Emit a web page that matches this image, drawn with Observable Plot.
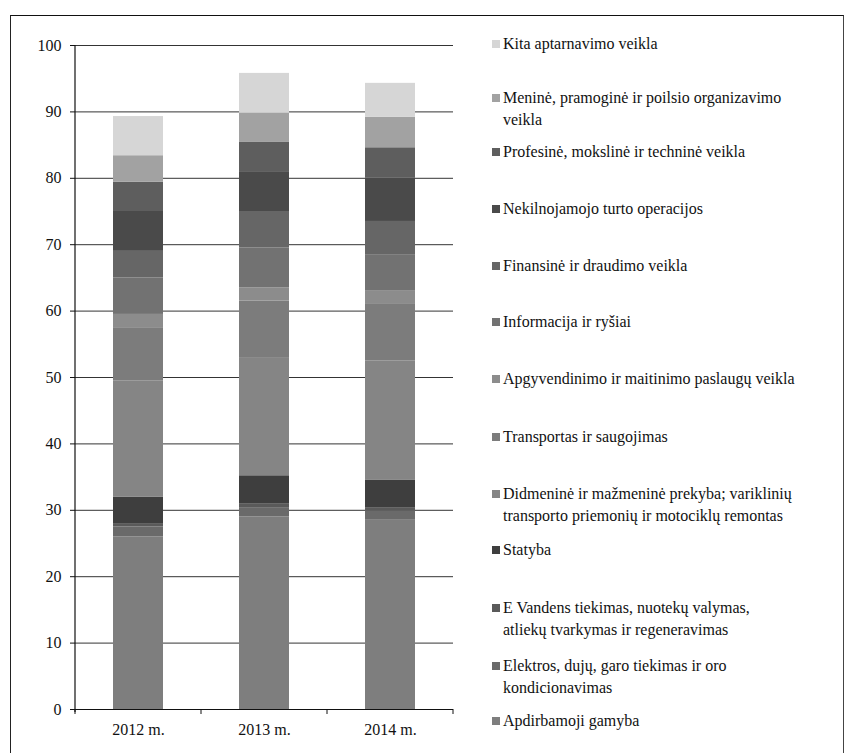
<!DOCTYPE html>
<html>
<head>
<meta charset="utf-8">
<script src="https://cdn.jsdelivr.net/npm/d3@7"></script>
<script src="https://cdn.jsdelivr.net/npm/@observablehq/plot@0.6"></script>
<style>
  body { margin: 0; background: #fff; font-family: "Liberation Serif", "Times New Roman", "DejaVu Serif", serif; }
  #wrap { position: relative; width: 845px; height: 753px; overflow: hidden; }
  #frame { position: absolute; left: 10px; top: 15px; width: 832px; height: 750px; border-top: 1.5px solid #111; border-left: 1.5px solid #222; border-right: 1px solid #444; }
  #chart { position: absolute; left: 0; top: 0; }
  #legend { position: absolute; left: 0; top: 0; width: 845px; height: 753px; pointer-events: none; }
  .li { position: absolute; left: 492px; font-size: 16px; line-height: 22px; color: #111; width: 350px; white-space: pre-line; }
  .sw { position: absolute; left: 0; top: 7px; width: 8px; height: 8px; }
  .tx { margin-left: 11px; display: block; }
</style>
</head>
<body>
<div id="wrap">
  <div id="frame"></div>
  <div id="chart"></div>
  <div id="legend"></div>
</div>
<script>
const years = ["2012 m.", "2013 m.", "2014 m."];
// stacking order: bottom to top
const sectors = [
  "Apdirbamoji gamyba",
  "Elektros, dujų, garo tiekimas ir oro\nkondicionavimas",
  "E Vandens tiekimas, nuotekų valymas,\natliekų tvarkymas ir regeneravimas",
  "Statyba",
  "Didmeninė ir mažmeninė prekyba; variklinių\ntransporto priemonių ir motociklų remontas",
  "Transportas ir saugojimas",
  "Apgyvendinimo ir maitinimo paslaugų veikla",
  "Informacija ir ryšiai",
  "Finansinė ir draudimo veikla",
  "Nekilnojamojo turto operacijos",
  "Profesinė, mokslinė ir techninė veikla",
  "Meninė, pramoginė ir poilsio organizavimo\nveikla",
  "Kita aptarnavimo veikla"
];
const values2012 = [26, 1.5, 0.5, 4, 17.5, 8, 2, 5.5, 4, 6, 4.4, 4, 5.9];
const values2013 = [29, 1.4, 0.6, 4.2, 17.8, 8.5, 2, 6, 5.5, 6, 4.4, 4.4, 6];
const values2014 = [28.5, 1.4, 0.5, 4.1, 18, 8.5, 2, 5.5, 5, 6.5, 4.6, 4.6, 5.1];
const yTicks = [0, 10, 20, 30, 40, 50, 60, 70, 80, 90, 100];

const grays = ["#7e7e7e", "#6a6a6a", "#5a5a5a", "#3e3e3e", "#858585", "#7c7c7c", "#8c8c8c",
               "#727272", "#666666", "#4a4a4a", "#5e5e5e", "#a2a2a2", "#d6d6d6"];

const series = [values2012, values2013, values2014];
const data = [];
years.forEach((y, i) => sectors.forEach((s, j) => data.push({year: y, sector: s, value: series[i][j]})));

const FONT = "'Liberation Serif', 'Times New Roman', 'DejaVu Serif', serif";
const plot = Plot.plot({
  width: 845,
  height: 753,
  marginLeft: 75,
  marginRight: 392,
  marginTop: 45,
  marginBottom: 44,
  style: {fontFamily: FONT, fontSize: "16px", color: "#111", background: "transparent"},
  x: {domain: years, paddingInner: 0.6, paddingOuter: 0.3, label: null},
  y: {domain: [0, 100], label: null},
  color: {domain: sectors, range: grays},
  marks: [
    Plot.gridY(yTicks, {stroke: "#111", strokeOpacity: 0.85, strokeWidth: 1}),
    Plot.barY(data, {x: "year", y: "value", fill: "sector", order: sectors}),
    Plot.axisY({ticks: yTicks, tickSize: 5, tickPadding: 9, fontSize: 16, fontFamily: FONT}),
    Plot.axisX({tickSize: 0, tickPadding: 14, fontSize: 16, fontFamily: FONT}),
    Plot.ruleY([0], {stroke: "#111", strokeWidth: 1.2})
  ]
});
const svg = d3.select(plot);
svg.append("line").attr("x1", 75).attr("x2", 75).attr("y1", 45).attr("y2", 712).attr("stroke", "#111").attr("stroke-width", 1.2);
[75, 201, 327, 453].forEach(x => svg.append("line").attr("x1", x).attr("x2", x).attr("y1", 709).attr("y2", 714).attr("stroke", "#111"));
document.getElementById("chart").appendChild(plot);

// legend (top to bottom = reverse stacking order)
const legendTops = [33, 87, 141, 198, 255, 311, 368, 426, 483, 539, 597, 655, 710];
const leg = document.getElementById("legend");
sectors.slice().reverse().forEach((s, i) => {
  const div = document.createElement("div");
  div.className = "li";
  div.style.top = legendTops[i] + "px";
  const sw = document.createElement("span");
  sw.className = "sw";
  sw.style.background = grays[sectors.length - 1 - i];
  const tx = document.createElement("span");
  tx.className = "tx";
  tx.textContent = s;
  div.appendChild(sw);
  div.appendChild(tx);
  leg.appendChild(div);
});
</script>
</body>
</html>
